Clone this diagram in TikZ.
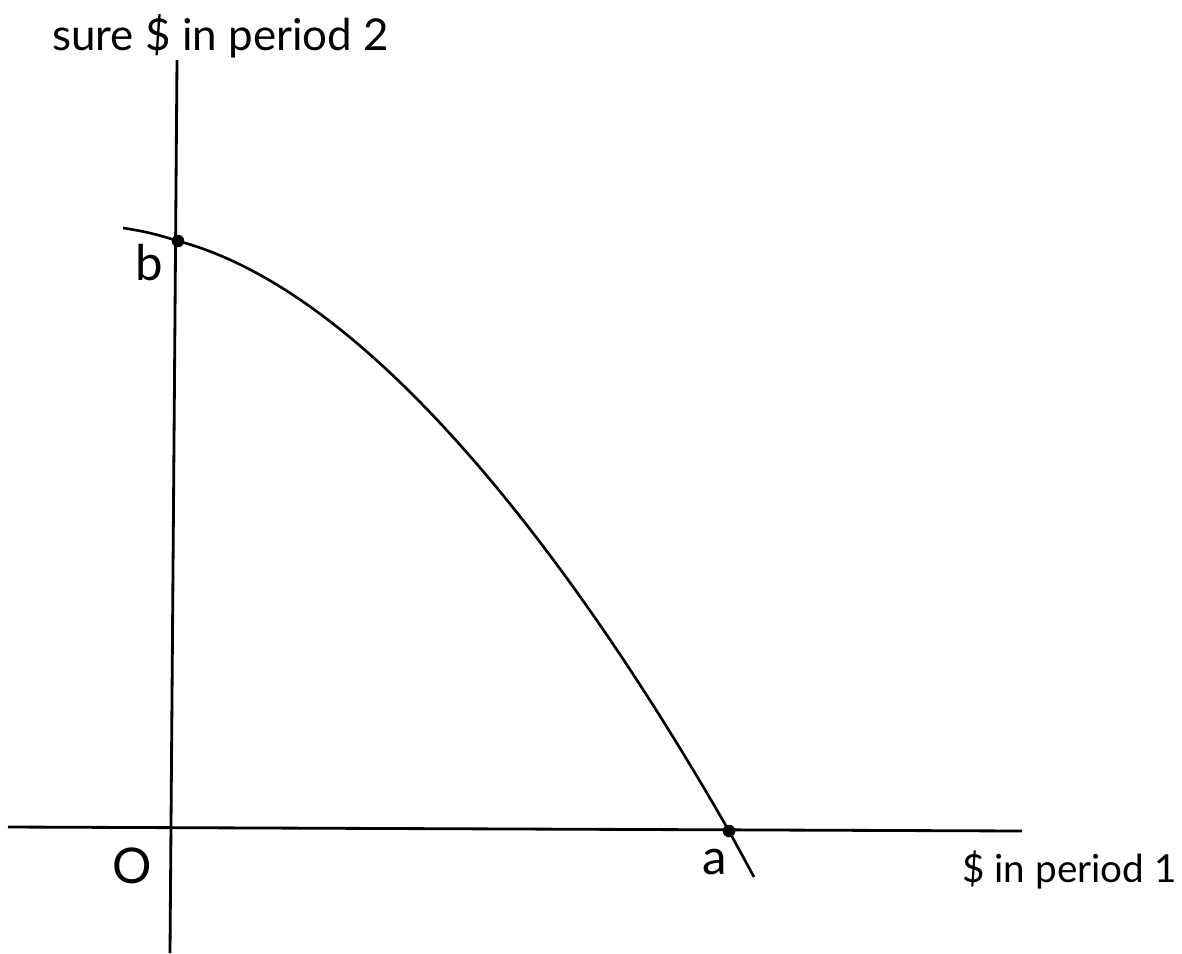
\documentclass[tikz,border=0pt]{standalone}
\usepackage{fontspec}
\setmainfont{Lato}
\begin{document}
\begin{tikzpicture}[x=0.02cm,y=-0.02cm,
  axis/.style={line width=1.6pt},
  curveline/.style={line width=1.5pt, line join=round},
  pointdot/.style={circle, fill=black, inner sep=0pt, minimum size=0.25cm},
  biglabel/.style={font=\fontsize{28}{32}\selectfont, inner sep=0pt},
  axislabel/.style={font=\fontsize{22}{26}\selectfont, inner sep=0pt, anchor=west}]
\useasboundingbox (0,0) rectangle (1182,953);
% axes
\coordinate (ytop) at (177,60);
\coordinate (ybot) at (170,953);
\coordinate (xleft) at (8,827);
\coordinate (xright) at (1022,831);
\draw[axis] (ybot) -- (ytop);
\draw[axis] (xleft) -- (xright);
% curve
\coordinate (cstart) at (123,228);
\coordinate (cend) at (754,877);
\node[pointdot] (b) at (178,241) {};
\node[pointdot] (a) at (729,831) {};
\draw[curveline] (cstart) .. controls (150,232) and (165,237) .. (b.center)
  .. controls (400,300) and (619,639) .. (a.center) -- (cend);
% labels
\node[biglabel] (lb) at (149,263) {b};
\node[biglabel] (la) at (715,862) {a};
\node[biglabel] (lo) at (132,866) {O};
\node[axislabel, font=\fontsize{25}{30}\selectfont] (ylab) at (52,36) {sure \$ in period 2};
\node[axislabel] (xlab) at (962,870) {\$ in period 1};
\end{tikzpicture}
\end{document}
